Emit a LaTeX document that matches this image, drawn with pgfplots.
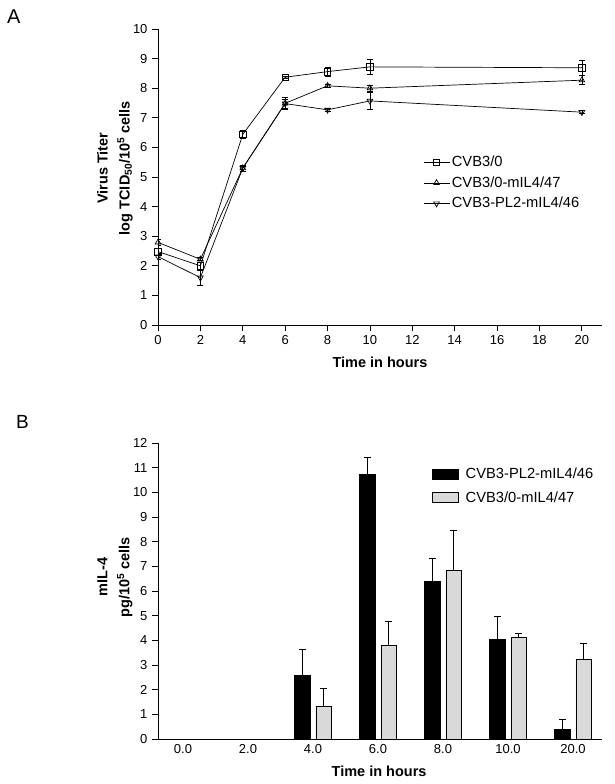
\documentclass[border=0pt]{standalone}
\usepackage{fontspec}
\setmainfont{Liberation Sans}
\usepackage{pgfplots}
\pgfplotsset{compat=1.18}
\begin{document}
\fontsize{13}{15}\selectfont
\begin{tikzpicture}[x=1pt,y=1pt]
\useasboundingbox (0pt,0pt) rectangle (615pt,784pt);
\node[anchor=north west, inner sep=0pt, font=\fontsize{20}{22}\selectfont] at (7pt,774pt) {A};
\node[anchor=north west, inner sep=0pt, font=\fontsize{19}{21}\selectfont] at (16pt,369pt) {B};

\pgfplotsset{
  myaxis/.style={
    scale only axis, width=444pt, height=296pt,
    axis x line*=bottom, axis y line*=left,
    axis line style={-, line width=0.8pt, black},
    tick align=outside, major tick length=6pt,
    tick style={line width=0.8pt, black},
    ticklabel style={font=\fontsize{13}{15}\selectfont},
    /pgf/number format/assume math mode=true,
    label style={font=\bfseries\fontsize{14.5}{17.5}\selectfont, align=center},
    ylabel style={font=\bfseries\fontsize{14.5}{22}\selectfont},
  }
}

% ---------- Panel A ----------
\begin{axis}[myaxis,
  at={(158pt,459pt)}, anchor=south west,
  xmin=0, xmax=20.95, ymin=0, ymax=10,
  xtick={0,2,...,20}, ytick={0,1,...,10},
  xlabel={Time in hours},
  xlabel style={at={(axis description cs:0.5,-0.125)}, anchor=center},
  ylabel={Virus Titer\\log TCID\textsubscript{50}/10\textsuperscript{5} cells},
  ylabel style={at={(axis description cs:-0.097,0.53)}, anchor=center},
  legend style={draw=none, fill=none, at={(axis description cs:0.59,0.585)}, anchor=north west,
    font=\fontsize{14.7}{17}\selectfont, row sep=4pt, cells={anchor=west}},
  legend image code/.code={\draw[mark repeat=2,mark phase=2,#1] plot coordinates {(0pt,0pt) (13pt,0pt) (26pt,0pt)};},
]
\addplot[black, line width=0.7pt, mark=square, mark size=3.3pt, mark options={fill=white, solid, line width=0.7pt},
  error bars/.cd, y dir=both, y explicit, error mark options={rotate=90, mark size=3pt, line width=0.7pt},
  error bar style={line width=0.7pt}]
  table[x=x, y=y, y error=e] {
x y e
0 2.48 0.10
2 2.00 0.12
4 6.44 0.15
6 8.37 0.04
8 8.56 0.15
10 8.72 0.25
20 8.69 0.25
};
\addlegendentry{CVB3/0}
\addplot[black, line width=0.7pt, mark=triangle, mark size=3.3pt, mark options={fill=white, solid, line width=0.7pt},
  error bars/.cd, y dir=both, y explicit, error mark options={rotate=90, mark size=3pt, line width=0.7pt},
  error bar style={line width=0.7pt}]
  table[x=x, y=y, y error=e] {
x y e
0 2.79 0.10
2 2.22 0.05
4 5.30 0.10
6 7.49 0.20
8 8.08 0.05
10 8.00 0.10
20 8.27 0.15
};
\addlegendentry{CVB3/0-mIL4/47}
\addplot[black, line width=0.7pt, mark=triangle, mark size=3.3pt, mark options={fill=white, solid, rotate=180, line width=0.7pt},
  error bars/.cd, y dir=both, y explicit, error mark options={rotate=90, mark size=3pt, line width=0.7pt},
  error bar style={line width=0.7pt}]
  table[x=x, y=y, y error=e] {
x y e
0 2.31 0.10
2 1.60 0.25
4 5.30 0.10
6 7.48 0.15
8 7.27 0.05
10 7.57 0.30
20 7.19 0.05
};
\addlegendentry{CVB3-PL2-mIL4/46}
\end{axis}

% ---------- Panel B ----------
\begin{axis}[myaxis,
  at={(158pt,45pt)}, anchor=south west,
  xmin=-0.385, xmax=6.446, ymin=0, ymax=12,
  xtick={0,1,...,6}, xticklabels={0.0,2.0,4.0,6.0,8.0,10.0,20.0},
  x tick style={draw=none},
  xticklabel style={yshift=5pt},
  ytick={0,1,...,12},
  xlabel={Time in hours},
  xlabel style={at={(axis description cs:0.498,-0.108)}, anchor=center},
  ylabel={mIL-4\\pg/10\textsuperscript{5} cells},
  ylabel style={at={(axis description cs:-0.097,0.547)}, anchor=center},
  legend style={draw=none, fill=none, at={(axis description cs:0.61,0.93)}, anchor=north west,
    font=\fontsize{14.7}{17}\selectfont, row sep=7pt, cells={anchor=west}},
  legend image code/.code={\draw[#1] (0pt,-5pt) rectangle (26pt,5pt); \path (31pt,0pt);},
]
\addplot[ybar, bar width=15.5pt, bar shift=0pt, fill=black, draw=black, line width=0.7pt,
  error bars/.cd, y dir=plus, y explicit, error mark options={rotate=90, mark size=3.5pt, line width=0.8pt},
  error bar style={line width=0.8pt}]
  table[x=x, y=y, y error=e] {
x y e
1.835 2.57 1.08
2.835 10.71 0.72
3.835 6.38 0.96
4.835 4.05 0.92
5.835 0.38 0.40
};
\addlegendentry{CVB3-PL2-mIL4/46}
\addplot[ybar, bar width=15.5pt, bar shift=0pt, fill=black!15, draw=black, line width=0.7pt,
  error bars/.cd, y dir=plus, y explicit, error mark options={rotate=90, mark size=3.5pt, line width=0.8pt},
  error bar style={line width=0.8pt}]
  table[x=x, y=y, y error=e] {
x y e
2.165 1.32 0.72
3.165 3.79 0.98
4.165 6.82 1.63
5.165 4.12 0.18
6.165 3.21 0.65
};
\addlegendentry{CVB3/0-mIL4/47}
\end{axis}
\end{tikzpicture}
\end{document}
